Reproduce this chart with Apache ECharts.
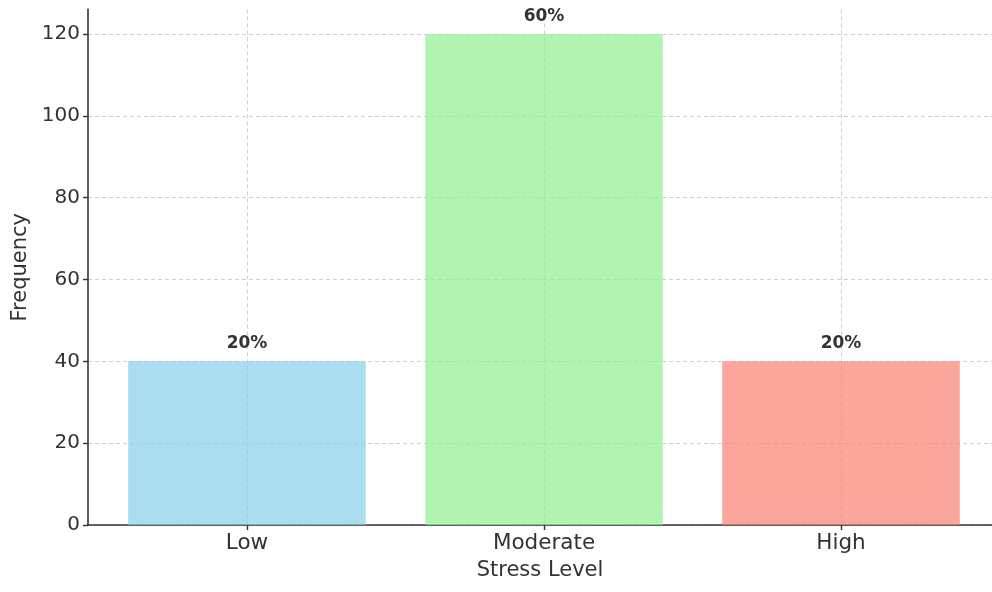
<!DOCTYPE html>
<html>
<head>
<meta charset="utf-8">
<script src="https://cdn.jsdelivr.net/npm/echarts@6/dist/echarts.min.js"></script>
<style>
html,body{margin:0;padding:0;background:#fff;}
#chart{width:992px;height:592px;}
</style>
</head>
<body>
<div id="chart"></div>
<script>
const categories = ["Low", "Moderate", "High"];
const frequencies = [40, 120, 40];
const percentLabels = ["20%", "60%", "20%"];
const barColors = ["rgba(135,206,235,0.7)", "rgba(144,238,144,0.7)", "rgba(250,128,114,0.7)"];
const yTicks = [0, 20, 40, 60, 80, 100, 120];

const chart = echarts.init(document.getElementById('chart'), null, {renderer: 'canvas'});
const FONT = 'DejaVu Sans';
const seriesData = frequencies.map((v, i) => ({
  value: [i, v],
  itemStyle: {color: barColors[i]},
  label: {formatter: percentLabels[i]}
}));

const option = {
  animation: false,
  backgroundColor: '#ffffff',
  grid: {left: 88, right: 0, top: 9.4, bottom: 67, containLabel: false},
  xAxis: {
    type: 'value',
    min: -0.5354,
    max: 2.5084,
    name: 'Stress Level',
    nameLocation: 'middle',
    nameGap: 35,
    nameTextStyle: {fontFamily: FONT, fontSize: 21, color: '#333'},
    axisLine: {show: true, onZero: false, lineStyle: {color: '#333', width: 1.6}},
    axisTick: {show: true, length: 5, customValues: [0, 1, 2], lineStyle: {color: '#333', width: 1.4}},
    axisLabel: {
      customValues: [0, 1, 2],
      fontFamily: FONT, fontSize: 21.5, color: '#333', margin: 7,
      formatter: v => categories[Math.round(v)] || ''
    },
    splitLine: {show: true, lineStyle: {color: '#cfcfcf', type: [4, 3], width: 1}}
  },
  yAxis: {
    type: 'value',
    min: 0,
    max: 126,
    name: 'Frequency',
    nameLocation: 'middle',
    nameGap: 52,
    nameTextStyle: {fontFamily: FONT, fontSize: 21, color: '#333'},
    axisLine: {show: true, onZero: false, lineStyle: {color: '#333', width: 1.6}},
    axisTick: {show: true, length: 5, customValues: yTicks, lineStyle: {color: '#333', width: 1.4}},
    axisLabel: {
      customValues: yTicks,
      fontFamily: FONT, fontSize: 20, color: '#333', margin: 8
    },
    splitLine: {show: true, lineStyle: {color: '#cfcfcf', type: [4, 3], width: 1}}
  },
  series: [{
    type: 'bar',
    data: seriesData,
    barWidth: 237.6,
    label: {
      show: true,
      position: 'top',
      distance: 9,
      fontFamily: FONT,
      fontSize: 17,
      fontWeight: 'bold',
      color: '#333'
    }
  }]
};
chart.setOption(option);
</script>
</body>
</html>
